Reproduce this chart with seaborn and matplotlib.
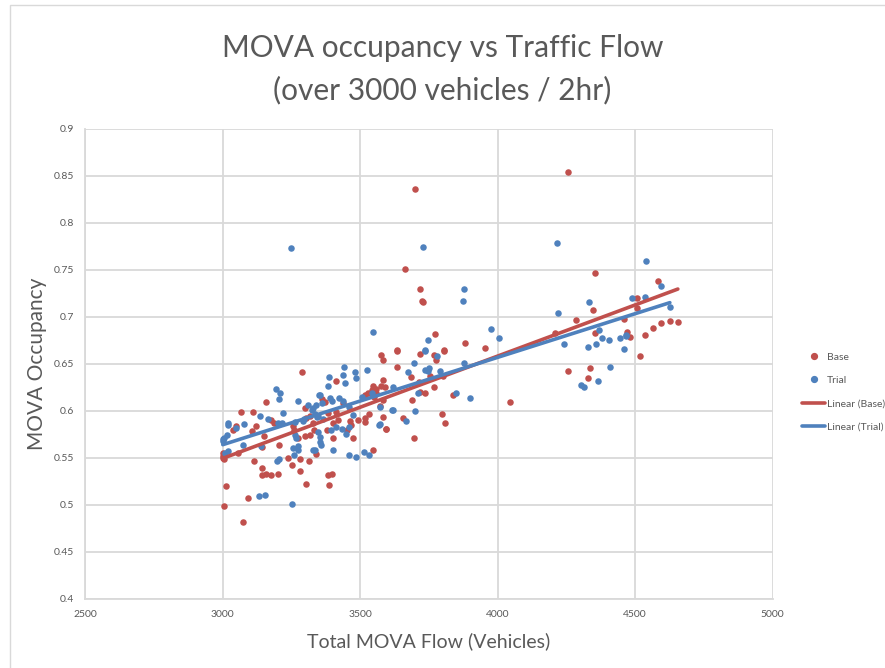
import matplotlib
matplotlib.use("Agg")
import matplotlib.pyplot as plt
import seaborn as sns
import pandas as pd
from matplotlib.lines import Line2D
from matplotlib.patches import Rectangle

# ---------------- data ----------------
base_x = [4257, 3698, 3661, 3716, 3725, 3727, 4283, 4209, 3773, 3882, 3955, 3632, 3805,
          4354, 4583, 4348, 4508, 4507, 4461, 4655, 4626, 4595, 4565, 4534, 4354, 4469, 4482,
          4519, 4257, 4336, 4328, 4046,
          3583, 3634, 3577, 3634, 3716, 3767, 3776, 3803, 3683, 3754, 3802, 3583, 3577, 3589,
          3712, 3770, 3719, 3734, 3688, 3837, 3797, 3583, 3656, 3810, 3595, 3696,
          3289, 3411, 3066, 3111, 3158, 3047, 3120, 3175, 3186, 3038, 3150, 3105, 3002, 3002,
          3054, 3142, 3206, 3115, 3144, 3142, 3156, 3174, 3200, 3236, 3250, 3281, 3281, 3314,
          3302, 3011, 3006, 3093, 3073, 3272, 3300, 3254, 3260, 3302, 3317, 3299, 3331, 3327,
          3317, 3362, 3371, 3381, 3378, 3402, 3402, 3381, 3396, 3386, 3338, 3412, 3419, 3436,
          3462, 3466, 3450, 3474, 3492, 3519, 3516, 3545, 3532, 3547, 3541, 3557, 3581, 3572,
          3519, 3528, 3593, 3000, 3003, 3557, 3549]
base_y = [0.854, 0.836, 0.751, 0.730, 0.717, 0.716, 0.696, 0.683, 0.682, 0.672, 0.667, 0.665, 0.665,
          0.746, 0.738, 0.707, 0.720, 0.709, 0.698, 0.694, 0.695, 0.693, 0.688, 0.681, 0.683, 0.684, 0.678,
          0.658, 0.642, 0.645, 0.635, 0.609,
          0.654, 0.646, 0.659, 0.663, 0.660, 0.659, 0.654, 0.663, 0.636, 0.637, 0.637, 0.633, 0.626, 0.625,
          0.631, 0.625, 0.620, 0.619, 0.611, 0.617, 0.597, 0.593, 0.592, 0.587, 0.581, 0.571,
          0.641, 0.632, 0.599, 0.599, 0.609, 0.584, 0.584, 0.590, 0.587, 0.580, 0.573, 0.578, 0.555, 0.550,
          0.555, 0.561, 0.564, 0.546, 0.539, 0.532, 0.533, 0.532, 0.533, 0.550, 0.542, 0.549, 0.536, 0.547,
          0.522, 0.520, 0.499, 0.507, 0.482, 0.571, 0.573, 0.584, 0.580, 0.592, 0.594, 0.603, 0.580, 0.587,
          0.574, 0.612, 0.609, 0.598, 0.580, 0.587, 0.571, 0.532, 0.533, 0.521, 0.554, 0.599, 0.590, 0.608,
          0.589, 0.585, 0.580, 0.571, 0.590, 0.592, 0.588, 0.558, 0.597, 0.626, 0.622, 0.623, 0.611, 0.605,
          0.617, 0.619, 0.581, 0.552, 0.549, 0.6185, 0.615]

trial_x = [3249, 3546, 3728, 3879, 3874, 4214, 4220, 4240, 3975, 4006, 3745, 3737,
           4541, 4594, 4331, 4487, 4535, 4626, 4370, 4330, 4359, 4378, 4406, 4444, 4468, 4468, 4458,
           4408, 4364, 4303, 4315,
           3734, 3778, 3695, 3876, 3672, 3737, 3749, 3747, 3790, 3620, 3710, 3850, 3898, 3571, 3620,
           3700, 3668, 3571,
           3442, 3387, 3438, 3480, 3486, 3523, 3444, 3383, 3192, 3208, 3205, 3272, 3350, 3355, 3390,
           3399, 3309, 3338, 3220, 3135, 3166, 3078, 3020, 3048, 3002, 3017, 3075, 3018, 3139, 3202,
           3214, 3262, 3290, 3323, 3329, 3335, 3347, 3365, 3262, 3268, 3256, 3272, 3260, 3275, 3196,
           3205, 3133, 3154, 3253, 3347, 3353, 3353, 3356, 3329, 3335, 3402, 3411, 3458, 3458, 3486,
           3514, 3532, 3568, 3616, 3505, 3000, 3020, 3005, 3008,
           3341, 3295, 3362, 3424, 3436, 3460, 3474, 3541, 3392, 3434, 3447]
trial_y = [0.773, 0.684, 0.774, 0.730, 0.717, 0.778, 0.704, 0.671, 0.687, 0.677, 0.675, 0.665,
           0.759, 0.733, 0.716, 0.720, 0.721, 0.710, 0.686, 0.668, 0.671, 0.677, 0.675, 0.677, 0.681, 0.679, 0.666,
           0.647, 0.632, 0.627, 0.625,
           0.664, 0.658, 0.651, 0.651, 0.641, 0.643, 0.645, 0.642, 0.642, 0.625, 0.619, 0.619, 0.614, 0.604, 0.601,
           0.600, 0.589, 0.586,
           0.646, 0.636, 0.638, 0.641, 0.635, 0.643, 0.630, 0.626, 0.623, 0.619, 0.612, 0.610, 0.617, 0.617, 0.613,
           0.610, 0.606, 0.606, 0.598, 0.594, 0.591, 0.586, 0.587, 0.582, 0.570, 0.574, 0.564, 0.557, 0.562, 0.587,
           0.587, 0.588, 0.589, 0.601, 0.603, 0.597, 0.594, 0.591, 0.574, 0.571, 0.560, 0.562, 0.553, 0.558, 0.546,
           0.549, 0.509, 0.510, 0.501, 0.577, 0.572, 0.567, 0.563, 0.558, 0.558, 0.558, 0.583, 0.583, 0.553, 0.551,
           0.556, 0.553, 0.585, 0.601, 0.615, 0.568, 0.585, 0.571, 0.555,
           0.593, 0.591, 0.608, 0.614, 0.610, 0.604, 0.595, 0.619, 0.580, 0.581, 0.575]

series_names = ["Base", "Trial"]
trend_names = ["Linear (Base)", "Linear (Trial)"]
title_text = "MOVA occupancy vs Traffic Flow\n(over 3000 vehicles / 2hr)"
x_label = "Total MOVA Flow (Vehicles)"
y_label = "MOVA Occupancy"
x_ticks = [2500, 3000, 3500, 4000, 4500, 5000]
y_ticks = [0.4, 0.45, 0.5, 0.55, 0.6, 0.65, 0.7, 0.75, 0.8, 0.85, 0.9]

# ---------------- styling ----------------
sns.set_theme(style="white")
plt.rcParams["font.family"] = ["Lato", "DejaVu Sans"]

RED = "#C0504D"
BLUE = "#4F81BD"
GREY_TXT = "#595959"
GRID = "#D9D9D9"

df_base = pd.DataFrame({"x": base_x, "y": base_y})
df_trial = pd.DataFrame({"x": trial_x, "y": trial_y})

fig = plt.figure(figsize=(8.85, 6.68), dpi=100)
fig.patch.set_facecolor("white")
ax = fig.add_axes([85.3 / 885, 1 - 598.7 / 668, (772.7 - 85.3) / 885, (598.7 - 128.7) / 668])

# chart-area border
fig.add_artist(Rectangle((10 / 885, -0.1), 1.2, 1.1 - 5 / 668, transform=fig.transFigure,
                         fill=False, edgecolor="#D9D9D9", linewidth=1.0))

sns.scatterplot(data=df_base, x="x", y="y", ax=ax, color=RED, s=22, linewidth=0, zorder=3)
sns.scatterplot(data=df_trial, x="x", y="y", ax=ax, color=BLUE, s=22, linewidth=0, zorder=3)
sns.regplot(data=df_base, x="x", y="y", ax=ax, scatter=False, ci=None, truncate=True,
            line_kws=dict(color=RED, linewidth=2.6, solid_capstyle="round", zorder=4))
sns.regplot(data=df_trial, x="x", y="y", ax=ax, scatter=False, ci=None, truncate=True,
            line_kws=dict(color=BLUE, linewidth=2.6, solid_capstyle="round", zorder=5))

ax.set_xlim(2500, 5000)
ax.set_ylim(0.4, 0.9)
ax.set_xticks(x_ticks)
ax.set_yticks(y_ticks)
ax.set_xticklabels([str(t) for t in x_ticks])
ax.set_yticklabels([f"{t:g}" for t in y_ticks])
ax.tick_params(axis="both", length=0, labelsize=7.5, labelcolor=GREY_TXT, pad=8)
ax.grid(True, color=GRID, linewidth=1.3)
ax.set_axisbelow(True)
for side in ["top", "right"]:
    ax.spines[side].set_visible(False)
for side in ["left", "bottom"]:
    ax.spines[side].set_color(GRID)
    ax.spines[side].set_linewidth(1.3)

ax.set_xlabel(x_label, fontsize=14, color=GREY_TXT, labelpad=10)
ax.set_ylabel(y_label, fontsize=15, color=GREY_TXT, labelpad=5)

fig.text(0.5, 1 - 69 / 668, title_text, ha="center", va="center", fontsize=21.5,
         color=GREY_TXT, linespacing=1.6)

handles = [
    Line2D([], [], marker="o", linestyle="none", color=RED, markersize=4.2),
    Line2D([], [], marker="o", linestyle="none", color=BLUE, markersize=4.2),
    Line2D([], [], color=RED, linewidth=2.6),
    Line2D([], [], color=BLUE, linewidth=2.6),
]
fig.legend(handles, series_names + trend_names, loc="center left",
           bbox_to_anchor=(0.902, 0.413), frameon=False, fontsize=7.5,
           labelcolor=GREY_TXT, handlelength=2.2, handletextpad=0.15, labelspacing=1.35,
           borderaxespad=0)

fig.savefig("out.png", dpi=100, facecolor="white")
